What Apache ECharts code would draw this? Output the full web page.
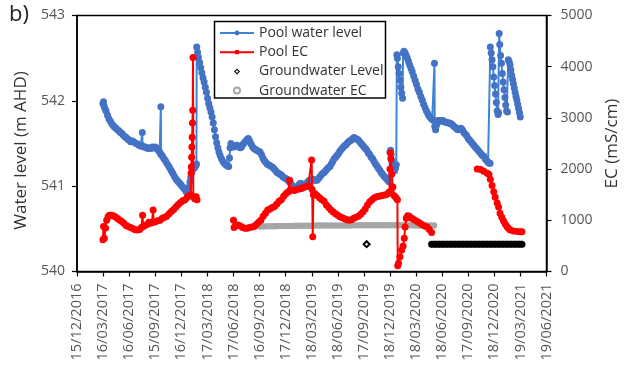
<!DOCTYPE html>
<html>
<head>
<meta charset="utf-8">
<script src="https://cdn.jsdelivr.net/npm/echarts@6/dist/echarts.min.js"></script>
<style>
  html, body { margin: 0; padding: 0; background: #fff; }
  #chart { width: 625px; height: 365px; }
</style>
</head>
<body>
<div id="chart"></div>
<script>
// Axis range (dates) and tick spacing in days
const axisStart = '2016-12-15';
const axisEnd = '2021-06-19';
const tickStepDays = 91.5;
const levelTicks = [540, 541, 542, 543];
const ecTicks = [0, 1000, 2000, 3000, 4000, 5000];

// Pool water level (m AHD)
const levelDates = [
  '2017-03-16','2017-03-18','2017-03-20','2017-03-23','2017-03-27',
  '2017-04-01','2017-04-06','2017-04-11','2017-04-16','2017-04-21','2017-04-26',
  '2017-05-01','2017-05-06','2017-05-11','2017-05-16','2017-05-21','2017-05-26',
  '2017-06-01','2017-06-06','2017-06-11','2017-06-16','2017-06-21','2017-06-26',
  '2017-07-01','2017-07-06','2017-07-11','2017-07-16','2017-07-21','2017-07-26','2017-07-31',
  '2017-08-01','2017-08-02','2017-08-06','2017-08-11','2017-08-16','2017-08-21','2017-08-26',
  '2017-09-01','2017-09-06','2017-09-11','2017-09-16','2017-09-21','2017-09-26',
  '2017-10-01','2017-10-04','2017-10-05','2017-10-06','2017-10-11','2017-10-16','2017-10-21','2017-10-26',
  '2017-11-01','2017-11-06','2017-11-11','2017-11-16','2017-11-21','2017-11-26',
  '2017-12-01','2017-12-06','2017-12-11','2017-12-16','2017-12-21','2017-12-26',
  '2018-01-01','2018-01-05','2018-01-09','2018-01-12','2018-01-15','2018-01-18','2018-01-21','2018-01-24','2018-01-28',
  '2018-02-01','2018-02-05','2018-02-07','2018-02-08','2018-02-11','2018-02-14','2018-02-18','2018-02-22','2018-02-26',
  '2018-03-02','2018-03-06','2018-03-10','2018-03-14','2018-03-18','2018-03-22','2018-03-26','2018-03-30',
  '2018-04-03','2018-04-07','2018-04-11','2018-04-15','2018-04-19','2018-04-23','2018-04-27',
  '2018-05-01','2018-05-06','2018-05-11','2018-05-16','2018-05-21','2018-05-26','2018-05-31',
  '2018-06-03','2018-06-05','2018-06-08','2018-06-13','2018-06-18','2018-06-23','2018-06-29',
  '2018-07-04','2018-07-10','2018-07-15','2018-07-20','2018-07-25','2018-07-30',
  '2018-08-04','2018-08-08','2018-08-13','2018-08-18','2018-08-23','2018-08-28',
  '2018-09-02','2018-09-07','2018-09-12','2018-09-18','2018-09-23','2018-09-28',
  '2018-10-03','2018-10-08','2018-10-13','2018-10-18','2018-10-23','2018-10-28',
  '2018-11-02','2018-11-07','2018-11-12','2018-11-17','2018-11-22','2018-11-27',
  '2018-12-02','2018-12-07','2018-12-12','2018-12-17','2018-12-22','2018-12-27',
  '2019-01-01','2019-01-06','2019-01-11','2019-01-16','2019-01-21','2019-01-26','2019-01-31',
  '2019-02-05','2019-02-10','2019-02-15','2019-02-20','2019-02-25',
  '2019-03-02','2019-03-07','2019-03-12','2019-03-17','2019-03-22','2019-03-27',
  '2019-04-01','2019-04-06','2019-04-11','2019-04-16','2019-04-21','2019-04-26',
  '2019-05-01','2019-05-06','2019-05-11','2019-05-16','2019-05-21','2019-05-26','2019-05-31',
  '2019-06-05','2019-06-10','2019-06-15','2019-06-20','2019-06-25','2019-06-30',
  '2019-07-05','2019-07-10','2019-07-15','2019-07-20','2019-07-25','2019-07-30',
  '2019-08-04','2019-08-09','2019-08-14','2019-08-19','2019-08-24','2019-08-29',
  '2019-09-03','2019-09-08','2019-09-13','2019-09-18','2019-09-23','2019-09-28',
  '2019-10-03','2019-10-08','2019-10-13','2019-10-18','2019-10-23','2019-10-28',
  '2019-11-02','2019-11-07','2019-11-12','2019-11-17','2019-11-22','2019-11-27',
  '2019-12-02','2019-12-07','2019-12-12','2019-12-16','2019-12-18','2019-12-20','2019-12-22','2019-12-25','2019-12-28','2019-12-31',
  '2020-01-03','2020-01-06','2020-01-09','2020-01-11','2020-01-13','2020-01-16','2020-01-19','2020-01-22','2020-01-25','2020-01-28','2020-01-31',
  '2020-02-02','2020-02-05','2020-02-09','2020-02-13','2020-02-17','2020-02-21','2020-02-25',
  '2020-03-01','2020-03-05','2020-03-10','2020-03-15','2020-03-20','2020-03-25','2020-03-30',
  '2020-04-04','2020-04-09','2020-04-14','2020-04-19','2020-04-24','2020-04-29',
  '2020-05-04','2020-05-09','2020-05-14','2020-05-19','2020-05-22','2020-05-23','2020-05-26','2020-05-30',
  '2020-06-04','2020-06-09','2020-06-14','2020-06-19','2020-06-24','2020-06-29',
  '2020-07-04','2020-07-09','2020-07-14','2020-07-19','2020-07-24','2020-07-29',
  '2020-08-03','2020-08-08','2020-08-13','2020-08-18','2020-08-23','2020-08-28',
  '2020-09-02','2020-09-07','2020-09-12','2020-09-17','2020-09-22','2020-09-27',
  '2020-10-02','2020-10-07','2020-10-12','2020-10-17','2020-10-22','2020-10-27',
  '2020-11-01','2020-11-06','2020-11-11','2020-11-16','2020-11-21','2020-11-26',
  '2020-12-01','2020-12-03','2020-12-04','2020-12-07','2020-12-10','2020-12-13','2020-12-16','2020-12-19','2020-12-22','2020-12-25','2020-12-28','2020-12-31',
  '2021-01-02','2021-01-04','2021-01-06','2021-01-09','2021-01-12','2021-01-15','2021-01-18','2021-01-21','2021-01-24','2021-01-27','2021-01-30',
  '2021-02-02','2021-02-05','2021-02-08','2021-02-11','2021-02-14','2021-02-17','2021-02-20','2021-02-23','2021-02-26',
  '2021-03-01','2021-03-04','2021-03-07','2021-03-10','2021-03-13','2021-03-16','2021-03-19'
];
const levelValues = [
  541.97,541.99,541.94,541.91,541.88,
  541.83,541.79,541.76,541.73,541.71,541.69,
  541.68,541.66,541.65,541.63,541.62,541.60,
  541.58,541.57,541.55,541.54,541.52,541.53,
  541.52,541.51,541.50,541.49,541.48,541.47,541.47,
  541.63,541.47,541.46,541.46,541.45,541.44,541.45,
  541.44,541.46,541.45,541.46,541.44,541.42,
  541.40,541.38,541.93,541.37,541.35,541.32,541.30,541.27,
  541.24,541.21,541.18,541.15,541.12,541.09,
  541.07,541.05,541.03,541.01,540.99,540.97,
  540.94,540.92,540.94,540.99,541.05,541.10,541.16,541.19,541.21,
  541.22,541.24,541.26,542.63,542.57,542.51,542.45,542.39,542.33,
  542.27,542.22,542.16,542.10,542.03,541.97,541.92,541.87,
  541.81,541.74,541.66,541.58,541.51,541.45,541.40,
  541.36,541.32,541.29,541.27,541.25,541.24,541.23,
  541.33,541.45,541.50,541.48,541.46,541.47,541.48,
  541.47,541.45,541.46,541.49,541.51,541.53,
  541.55,541.56,541.53,541.49,541.46,541.44,
  541.43,541.42,541.41,541.40,541.37,541.33,
  541.30,541.28,541.26,541.25,541.24,541.23,
  541.22,541.20,541.18,541.16,541.15,541.14,
  541.13,541.11,541.10,541.09,541.08,541.06,
  541.04,541.02,541.00,540.98,540.97,540.99,541.01,
  541.03,541.03,541.02,541.01,541.02,
  541.04,541.06,541.07,541.07,541.08,541.07,
  541.07,541.07,541.09,541.11,541.13,541.15,
  541.16,541.18,541.20,541.22,541.23,541.26,541.29,
  541.32,541.34,541.36,541.38,541.41,541.43,
  541.45,541.47,541.48,541.50,541.52,541.53,
  541.54,541.56,541.57,541.56,541.55,541.54,
  541.52,541.50,541.48,541.46,541.44,541.42,
  541.39,541.37,541.34,541.32,541.29,541.26,
  541.24,541.21,541.19,541.16,541.14,541.12,
  541.10,541.08,541.06,541.05,541.40,541.42,541.37,541.30,541.24,541.20,
  541.18,541.21,541.25,542.54,542.50,542.40,542.32,542.24,542.16,542.09,542.03,
  542.56,542.58,542.56,542.53,542.50,542.46,542.42,
  542.38,542.34,542.29,542.24,542.19,542.14,542.10,
  542.05,542.01,541.96,541.92,541.88,541.85,
  541.82,541.80,541.78,541.77,542.44,541.70,541.66,541.72,
  541.77,541.77,541.76,541.77,541.76,541.75,
  541.75,541.74,541.74,541.73,541.72,541.70,
  541.69,541.67,541.66,541.67,541.68,541.66,
  541.63,541.61,541.59,541.56,541.54,541.52,
  541.50,541.48,541.46,541.44,541.42,541.40,
  541.38,541.36,541.35,541.32,541.30,541.28,
  541.27,541.27,542.63,542.56,542.48,542.40,542.28,542.18,542.08,541.98,541.88,541.84,
  541.86,542.79,542.66,542.53,542.44,542.32,542.22,542.13,542.04,541.95,541.88,
  541.87,542.48,542.46,542.42,542.36,542.30,542.25,542.20,542.15,
  542.10,542.05,542.01,541.96,541.91,541.86,541.81
];

// Pool EC (mS/cm); null marks a break in the record
const ecDates = [
  '2017-03-16','2017-03-18','2017-03-21','2017-03-25','2017-03-29',
  '2017-04-03','2017-04-08','2017-04-14','2017-04-21','2017-04-28',
  '2017-05-05','2017-05-12','2017-05-20','2017-05-28',
  '2017-06-05','2017-06-13','2017-06-21','2017-06-29',
  '2017-07-07','2017-07-15','2017-07-23','2017-07-29',
  '2017-08-02','2017-08-04','2017-08-10','2017-08-18','2017-08-24','2017-08-30',
  '2017-09-04','2017-09-08','2017-09-10','2017-09-16','2017-09-24',
  '2017-10-02','2017-10-10','2017-10-18','2017-10-26',
  '2017-11-03','2017-11-11','2017-11-19','2017-11-27',
  '2017-12-05','2017-12-13','2017-12-21','2017-12-29',
  '2018-01-06','2018-01-12','2018-01-18','2018-01-19','2018-01-20','2018-01-21','2018-01-22',
  '2018-01-23','2018-01-24','2018-01-25','2018-01-26','2018-01-27',
  '2018-02-01','2018-02-06','2018-02-09',
  '2018-04-01',
  '2018-06-17','2018-06-19','2018-06-25',
  '2018-07-03','2018-07-11','2018-07-19','2018-07-27',
  '2018-08-04','2018-08-12','2018-08-20','2018-08-28',
  '2018-09-05','2018-09-13','2018-09-21','2018-09-29',
  '2018-10-07','2018-10-15','2018-10-23','2018-10-31',
  '2018-11-08','2018-11-16','2018-11-24',
  '2018-12-02','2018-12-10','2018-12-18','2018-12-26','2018-12-31',
  '2019-01-01','2019-01-09','2019-01-17','2019-01-25',
  '2019-02-02','2019-02-10','2019-02-18','2019-02-26',
  '2019-03-06','2019-03-12','2019-03-18','2019-03-20','2019-03-22','2019-03-24','2019-03-30',
  '2019-04-07','2019-04-15','2019-04-23',
  '2019-05-01','2019-05-09','2019-05-17','2019-05-25',
  '2019-06-02','2019-06-10','2019-06-18','2019-06-26',
  '2019-07-04','2019-07-12','2019-07-20','2019-07-28',
  '2019-08-05','2019-08-13','2019-08-21','2019-08-29',
  '2019-09-06','2019-09-14','2019-09-22','2019-09-30',
  '2019-10-08','2019-10-16','2019-10-24',
  '2019-11-01','2019-11-09','2019-11-17','2019-11-25',
  '2019-12-03','2019-12-11','2019-12-16','2019-12-18','2019-12-19','2019-12-21','2019-12-24','2019-12-28',
  '2020-01-02','2020-01-08','2020-01-13','2020-01-14','2020-01-17','2020-01-22','2020-01-28',
  '2020-02-02','2020-02-06','2020-02-09','2020-02-13','2020-02-18','2020-02-24',
  '2020-03-03','2020-03-12','2020-03-21','2020-03-30',
  '2020-04-08','2020-04-17','2020-04-26',
  '2020-05-04','2020-05-12',
  '2020-08-01',
  '2020-10-19','2020-10-31','2020-11-11','2020-11-23','2020-11-29',
  '2020-12-04','2020-12-10','2020-12-16','2020-12-21','2020-12-28',
  '2021-01-02','2021-01-07','2021-01-13','2021-01-19','2021-01-25','2021-01-31',
  '2021-02-06','2021-02-12','2021-02-23',
  '2021-03-08','2021-03-19','2021-03-25'
];
const ecValues = [
  620,880,650,850,1000,
  1070,1100,1100,1090,1070,
  1040,1010,980,940,
  900,880,860,840,
  815,810,820,860,
  1100,880,900,920,960,940,
  960,1200,960,970,990,
  1000,1040,1060,1080,
  1130,1170,1210,1260,
  1310,1350,1380,1400,
  1450,1480,1500,1920,2040,2230,2430,
  2620,2900,3150,4180,1460,
  1420,1460,1400,
  null,
  1000,860,900,
  910,890,860,845,
  845,860,870,880,
  920,960,1000,1080,
  1140,1200,1220,1250,
  1270,1320,1370,
  1400,1470,1520,1560,1780,
  1580,1590,1580,1600,
  1610,1620,1640,1660,
  1670,1660,2180,1600,680,1500,1520,
  1480,1440,1400,
  1370,1300,1250,1200,
  1160,1130,1100,1070,
  1050,1030,1010,1000,
  1010,1040,1060,1080,
  1120,1160,1220,1300,
  1360,1400,1440,
  1460,1470,1480,1490,
  1500,1520,1560,2000,2320,2200,1900,1650,
  1480,1440,1400,110,160,290,420,
  500,650,870,1040,1090,1080,
  1040,1010,980,950,
  920,890,870,
  820,760,
  null,
  2000,1990,1960,1920,1900,
  1800,1680,1560,1450,1340,
  1260,1140,1060,990,930,880,
  840,810,790,
  780,775,775
];

// Groundwater level (m AHD); null separates the single early reading
const gwLevelDates = [
  '2019-09-27','2020-01-01',
  '2020-05-12','2020-05-26','2020-06-09','2020-06-23','2020-07-07','2020-07-21',
  '2020-08-04','2020-08-18','2020-09-01','2020-09-15','2020-09-29','2020-10-13',
  '2020-10-27','2020-11-10','2020-11-24','2020-12-08','2020-12-22','2021-01-05',
  '2021-01-19','2021-02-02','2021-02-16','2021-03-02','2021-03-16','2021-03-25'
];
const gwLevelValues = [
  540.32, null,
  540.32,540.32,540.32,540.32,540.32,540.32,
  540.32,540.32,540.32,540.32,540.32,540.32,
  540.32,540.32,540.32,540.32,540.32,540.32,
  540.32,540.32,540.32,540.32,540.32,540.32
];

// Groundwater EC (mS/cm)
const gwEcDates = [
  '2018-09-16','2018-09-30','2018-10-14','2018-10-28','2018-11-11','2018-11-25',
  '2018-12-09','2018-12-23','2019-01-06','2019-01-20','2019-02-03','2019-02-17',
  '2019-03-03','2019-03-17','2019-03-31','2019-04-14','2019-04-28','2019-05-12',
  '2019-05-26','2019-06-09','2019-06-23','2019-07-07','2019-07-21','2019-08-04',
  '2019-08-18','2019-09-01','2019-09-15','2019-09-29','2019-10-13','2019-10-27',
  '2019-11-10','2019-11-24','2019-12-08','2019-12-22','2020-01-05','2020-01-19',
  '2020-02-02','2020-02-16','2020-03-01','2020-03-15','2020-03-29','2020-04-12',
  '2020-04-26','2020-05-10','2020-05-21'
];
const gwEcValues = [
  880,880,885,885,885,890,
  890,890,890,895,895,895,
  895,895,900,900,900,900,
  900,900,900,900,900,900,
  905,905,905,905,905,905,
  905,905,905,905,905,905,
  905,905,905,900,900,900,
  900,900,900
];

const FONT = '"Open Sans", "Liberation Sans", sans-serif';
const DAY = 86400000;
const originMs = Date.parse(axisStart + 'T00:00:00Z');

// Legend key: small hollow diamond centred in a 34 x 6 box (tiny corner
// specks fix the box so the key is not stretched)
const HOLLOW_DIAMOND_KEY = 'path://M0,2.99L0.01,3L0,3.01Z' +
  'M17,0L20,3L17,6L14,3Z' +
  'M17,1.5L15.5,3L17,4.5L18.5,3Z' +
  'M34,2.99L33.99,3L34,3.01Z';

function dayIndex(s) {
  return (Date.parse(s + 'T00:00:00Z') - originMs) / DAY;
}
function pad2(n) { return (n < 10 ? '0' : '') + n; }
function dayLabel(v) {
  const d = new Date(originMs + Math.floor(v + 1e-6) * DAY);
  return pad2(d.getUTCDate()) + '/' + pad2(d.getUTCMonth() + 1) + '/' + d.getUTCFullYear();
}
function pairs(dates, values) {
  return dates.map((d, i) => [dayIndex(d), values[i] == null ? '-' : values[i]]);
}

const chart = echarts.init(document.getElementById('chart'), null, { renderer: 'canvas' });

const option = {
  animation: false,
  backgroundColor: '#fff',
  textStyle: { fontFamily: FONT },
  grid: {
    left: 77, right: 78.5, top: 15.5, bottom: 93.5,
    show: true, borderColor: '#000', borderWidth: 1.5,
    outerBoundsMode: 'none'
  },
  graphic: [{
    type: 'text', left: 9, top: 4,
    style: { text: 'b)', font: '22px ' + FONT, fill: '#222' }
  }, {
    // legend frame
    type: 'rect', z: 10,
    shape: { x: 214.5, y: 21.5, width: 171, height: 76.5 },
    style: { fill: '#fff', stroke: '#000', lineWidth: 1.5 }
  }],
  legend: {
    orient: 'vertical', left: 214, top: 22, z: 11,
    padding: [4, 5, 2, 5], itemGap: 5.2, itemWidth: 34, itemHeight: 6,
    backgroundColor: 'transparent', borderWidth: 0,
    textStyle: { fontFamily: FONT, fontSize: 14, color: '#333' },
    data: [
      { name: 'Pool water level' },
      { name: 'Pool EC' },
      { name: 'Groundwater Level', icon: HOLLOW_DIAMOND_KEY },
      { name: 'Groundwater EC', icon: 'emptyCircle' }
    ]
  },
  xAxis: {
    type: 'value',
    min: dayIndex(axisStart), max: dayIndex(axisEnd), interval: tickStepDays,
    axisLine: { show: true, onZero: false, lineStyle: { color: '#000', width: 1.5 } },
    axisTick: { show: true, length: 5, lineStyle: { color: '#000', width: 1.2 } },
    axisLabel: {
      rotate: 90, margin: 12, formatter: dayLabel, hideOverlap: false,
      showMinLabel: true, showMaxLabel: true,
      fontFamily: FONT, fontSize: 14.5, color: '#555'
    },
    splitLine: { show: false }
  },
  yAxis: [{
    type: 'value', position: 'left',
    min: levelTicks[0], max: levelTicks[levelTicks.length - 1], interval: 1,
    name: 'Water level (m AHD)', nameLocation: 'middle', nameGap: 34, nameRotate: 90,
    nameTextStyle: { fontFamily: FONT, fontSize: 17, color: '#333', padding: [0, 14, 0, 0] },
    axisLine: { show: true, lineStyle: { color: '#000', width: 1.5 } },
    axisTick: { show: true, length: 5, lineStyle: { color: '#000', width: 1.2 } },
    axisLabel: { margin: 12, fontFamily: FONT, fontSize: 14, color: '#555', formatter: v => String(v) },
    splitLine: { show: false }
  }, {
    type: 'value', position: 'right',
    min: ecTicks[0], max: ecTicks[ecTicks.length - 1], interval: 1000,
    name: 'EC (mS/cm)', nameLocation: 'middle', nameGap: 57, nameRotate: 90,
    nameTextStyle: { fontFamily: FONT, fontSize: 17, color: '#333' },
    axisLine: { show: true, lineStyle: { color: '#000', width: 1.5 } },
    axisTick: { show: true, length: 5, lineStyle: { color: '#000', width: 1.2 } },
    axisLabel: { margin: 14, fontFamily: FONT, fontSize: 14, color: '#555', formatter: v => String(v) },
    splitLine: { show: false }
  }],
  series: [{
    name: 'Pool water level', type: 'line', yAxisIndex: 0, z: 2,
    data: pairs(levelDates, levelValues),
    symbol: 'circle', symbolSize: 7, showSymbol: true,
    lineStyle: { color: '#3C86D3', width: 2 },
    itemStyle: { color: '#4472C4' }
  }, {
    name: 'Groundwater EC', type: 'line', yAxisIndex: 1, z: 3,
    data: pairs(gwEcDates, gwEcValues),
    symbol: 'circle', symbolSize: 6, showSymbol: true,
    lineStyle: { color: '#A6A6A6', width: 6, cap: 'round' },
    itemStyle: { color: '#A6A6A6' }
  }, {
    name: 'Groundwater Level', type: 'line', yAxisIndex: 0, z: 4,
    data: pairs(gwLevelDates, gwLevelValues).map((p, i) =>
      i === 0 ? { value: p, symbol: 'emptyDiamond', symbolSize: 6, itemStyle: { borderWidth: 1.5 } } : p),
    connectNulls: false,
    symbol: 'diamond', symbolSize: 7, showSymbol: true,
    lineStyle: { color: '#000', width: 7, cap: 'round' },
    itemStyle: { color: '#000' }
  }, {
    name: 'Pool EC', type: 'line', yAxisIndex: 1, z: 5,
    data: pairs(ecDates, ecValues),
    connectNulls: false,
    symbol: 'circle', symbolSize: 7, showSymbol: true,
    lineStyle: { color: '#FF0000', width: 2 },
    itemStyle: { color: '#FF0000' }
  }]
};

chart.setOption(option);
</script>
</body>
</html>
